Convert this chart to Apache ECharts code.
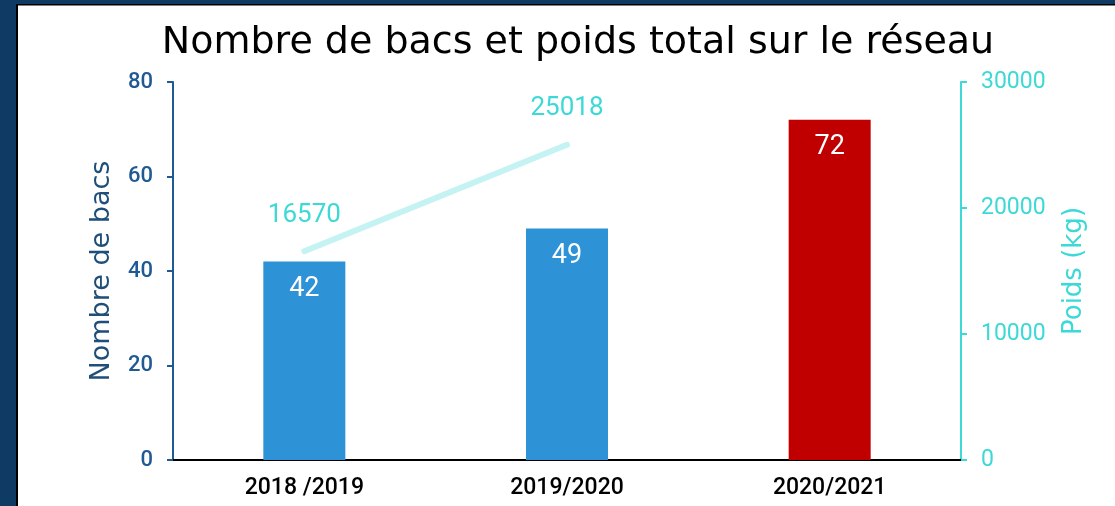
<!DOCTYPE html>
<html>
<head>
<meta charset="utf-8">
<script src="https://cdn.jsdelivr.net/npm/echarts@6/dist/echarts.min.js"></script>
<style>
  html, body { margin: 0; padding: 0; background: #ffffff; }
  #chart { width: 1115px; height: 506px; }
</style>
</head>
<body>
<div id="chart"></div>
<script>
var seasons = ['2018 /2019', '2019/2020', '2020/2021'];
var bacs = [42, 49, 72];
var poids = [16570, 25018, null];
var barColors = ['#2E92D6', '#2E92D6', '#C00000'];

var chartDom = document.getElementById('chart');
var myChart = echarts.init(chartDom);
var option;

var darkBlue = '#1F5A94';
var turquoise = '#3DD9D6';

option = {
    animation: false,
    backgroundColor: '#ffffff',
    title: {
        text: 'Nombre de bacs et poids total sur le réseau',
        left: 573,
        top: 19,
        textAlign: 'center',
        textStyle: {
            fontFamily: 'DejaVu Sans',
            fontSize: 38,
            fontWeight: 'normal',
            color: '#000000'
        }
    },
    graphic: [
        { type: 'rect', left: 0, top: 0, shape: { width: 16, height: 506 }, style: { fill: '#0F3A63' } },
        { type: 'rect', left: 0, top: 0, shape: { width: 1115, height: 4 }, style: { fill: '#0F3A63' } },
        { type: 'rect', left: 16, top: 4, shape: { width: 2, height: 502 }, style: { fill: '#000000' } },
        { type: 'rect', left: 16, top: 4, shape: { width: 1099, height: 1.5 }, style: { fill: '#000000' } }
    ],
    grid: {
        left: 173,
        right: 154,
        top: 82,
        bottom: 46
    },
    xAxis: {
        type: 'category',
        data: seasons,
        axisLine: { lineStyle: { color: '#000000', width: 2 } },
        axisTick: { show: false },
        axisLabel: {
            margin: 17,
            fontFamily: 'Roboto',
            fontSize: 23,
            fontWeight: 500,
            color: '#000000'
        }
    },
    yAxis: [
        {
            type: 'value',
            min: 0,
            max: 80,
            interval: 20,
            name: 'Nombre de bacs',
            nameLocation: 'middle',
            nameGap: 58,
            nameTextStyle: {
                fontFamily: 'DejaVu Sans',
                fontSize: 27,
                color: '#1F4E79'
            },
            splitLine: { show: false },
            axisLine: { show: true, lineStyle: { color: darkBlue, width: 2 } },
            axisTick: { show: true, length: 6, lineStyle: { color: darkBlue, width: 2 } },
            axisLabel: {
                margin: 20,
                fontFamily: 'Roboto',
                fontSize: 22,
                fontWeight: 500,
                color: darkBlue
            }
        },
        {
            type: 'value',
            min: 0,
            max: 30000,
            interval: 10000,
            name: 'Poids (kg)',
            nameLocation: 'middle',
            nameGap: 100,
            nameRotate: 90,
            nameTextStyle: {
                fontFamily: 'DejaVu Sans',
                fontSize: 26,
                color: turquoise
            },
            splitLine: { show: false },
            axisLine: { show: true, lineStyle: { color: turquoise, width: 2 } },
            axisTick: { show: true, length: 6, lineStyle: { color: turquoise, width: 2 } },
            axisLabel: {
                margin: 20,
                fontFamily: 'Roboto',
                fontSize: 23,
                color: turquoise,
                formatter: function (v) { return String(v); }
            }
        }
    ],
    series: [
        {
            name: 'Nombre de bacs',
            type: 'bar',
            yAxisIndex: 0,
            barWidth: 82,
            data: bacs.map(function (v, i) {
                return { value: v, itemStyle: { color: barColors[i] } };
            }),
            label: {
                show: true,
                position: 'insideTop',
                distance: 14,
                fontFamily: 'Roboto',
                fontSize: 27,
                color: '#ffffff'
            }
        },
        {
            name: 'Poids',
            type: 'line',
            yAxisIndex: 1,
            data: poids,
            showSymbol: true,
            symbol: 'circle',
            symbolSize: 2,
            itemStyle: { color: '#C5F3F4' },
            lineStyle: { color: '#C5F3F4', width: 6, cap: 'round' },
            label: {
                show: true,
                position: 'top',
                distance: 22,
                fontFamily: 'Roboto',
                fontSize: 26,
                color: turquoise
            }
        }
    ]
};

option && myChart.setOption(option);
</script>
</body>
</html>
